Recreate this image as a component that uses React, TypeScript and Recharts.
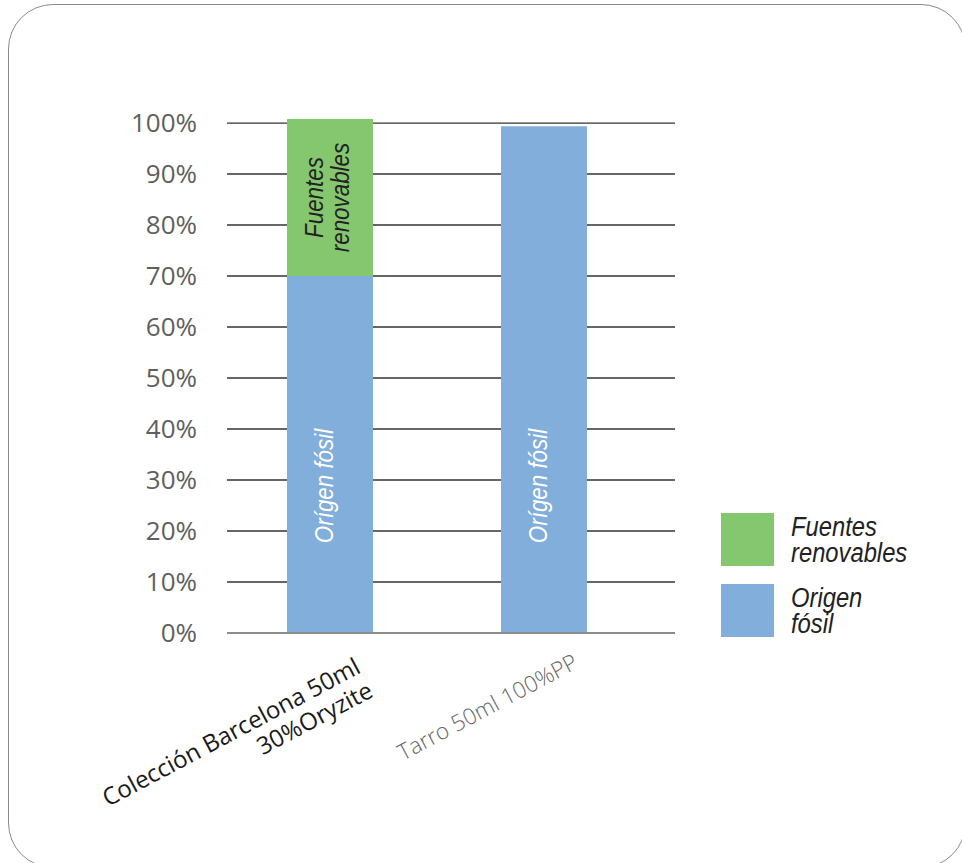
import { BarChart, Bar, XAxis, YAxis, CartesianGrid, Legend } from "recharts";

const categories = ["Colección Barcelona 50ml\n30%Oryzite", "Tarro 50ml 100%PP"];
const fossilValues = [70, 99.4];
const renewableValues = [30.8, 0];
const yTicks = [0, 10, 20, 30, 40, 50, 60, 70, 80, 90, 100];
const yDomain: [number, number] = [0, 100.8];
const seriesNames = { fossil: "Origen fósil", renewable: "Fuentes renovables" };
const barTexts = { fossil: "Orígen fósil", renewable: "Fuentes\nrenovables" };
const legendOrder = ["renewable", "fossil"];

const data = categories.map((name, i) => ({
  name,
  fossil: fossilValues[i],
  renewable: renewableValues[i],
}));

const BLUE = "#82AEDB";
const GREEN = "#85C76E";
const italicFont = "'Liberation Sans', Arial, sans-serif";

function XTick(props: any) {
  const { x, y, payload, index } = props;
  const lines = String(payload.value).split("\n");
  const first = index === 0;
  const ax = x + (first ? 24 : 28);
  const ay = y + (first ? 16 : 12);
  return (
    <text
      transform={`rotate(-28 ${ax} ${ay})`}
      x={ax}
      y={ay}
      textAnchor="end"
      fontFamily="'Open Sans', 'Noto Sans', sans-serif"
      fontSize={first ? 24 : 22.5}
      fontWeight={first ? 400 : 300}
      fill={first ? "#1a1a1a" : "#666666"}
    >
      {lines.map((l, i) => (
        <tspan key={i} x={ax} dy={i === 0 ? "0.71em" : 27}>
          {l}
        </tspan>
      ))}
    </text>
  );
}

// rotated, horizontally condensed italic text
function BarText({ cx, cy, lines, fill }: { cx: number; cy: number; lines: string[]; fill: string }) {
  return (
    <g transform={`translate(${cx} ${cy}) rotate(-90) scale(0.86 1)`}>
      <text textAnchor="middle" fontFamily={italicFont} fontStyle="italic" fontSize={26} fill={fill}>
        {lines.map((l, i) => (
          <tspan key={i} x={0} y={(i - (lines.length - 1) / 2) * 26 + (lines.length > 1 ? 6 : 3)}>
            {l}
          </tspan>
        ))}
      </text>
    </g>
  );
}

function RenewableLabel(props: any) {
  const x = Number(props.x), y = Number(props.y);
  const w = Number(props.width), h = Number(props.height);
  if (!h || h <= 0) return null;
  return <BarText cx={x + w / 2} cy={y + h / 2} lines={barTexts.renewable.split("\n")} fill="#222" />;
}

function FossilLabel(props: any) {
  const x = Number(props.x), y = Number(props.y);
  const w = Number(props.width), h = Number(props.height);
  if (!h || h <= 0) return null;
  return <BarText cx={x + w / 2} cy={y + h - 147} lines={[barTexts.fossil]} fill="#ffffff" />;
}

function LegendBox(props: any) {
  const items = [...(props.payload || [])].sort(
    (a: any, b: any) => legendOrder.indexOf(a.dataKey) - legendOrder.indexOf(b.dataKey)
  );
  return (
    <div>
      {items.map((it: any, i: number) => (
        <div key={i} style={{ display: "flex", alignItems: "center", marginBottom: 18 }}>
          <div style={{ width: 53, height: 53, background: it.color, flexShrink: 0 }} />
          <div
            style={{
              marginLeft: 17,
              fontFamily: italicFont,
              fontStyle: "italic",
              fontSize: 27,
              lineHeight: "26px",
              color: "#222",
              transform: "scaleX(0.88)",
              transformOrigin: "left center",
              whiteSpace: "nowrap",
            }}
          >
            {String(it.value)
              .split(" ")
              .map((w, j) => (
                <div key={j}>{w}</div>
              ))}
          </div>
        </div>
      ))}
    </div>
  );
}

// grid lines only at the labelled ticks
function gridRows(p: any) {
  const scale = p?.yAxis?.scale;
  if (typeof scale === "function") return yTicks.map((t) => scale(t));
  const top = p.offset.top;
  const h = p.offset.height;
  return yTicks.map((t) => top + h * (1 - (t - yDomain[0]) / (yDomain[1] - yDomain[0])));
}

export default function App() {
  return (
    <div style={{ position: "absolute", left: 0, top: 0, width: 962, height: 863, overflow: "hidden", background: "#fff" }}>
      <div
        style={{
          position: "absolute",
          left: 8,
          top: 4,
          width: 958,
          height: 864,
          border: "1.5px solid #8a8a8a",
          borderRadius: 45,
          boxSizing: "border-box",
        }}
      />
      <div style={{ position: "absolute", left: 0, top: 0 }}>
        <BarChart
          width={962}
          height={863}
          data={data}
          margin={{ top: 119, right: 287, left: 127, bottom: 130 }}
          barSize={86}
        >
          <CartesianGrid vertical={false} stroke="#333333" strokeWidth={1.4} horizontalCoordinatesGenerator={gridRows} />
          <XAxis
            dataKey="name"
            axisLine={{ stroke: "#8c8c8c", strokeWidth: 2 }}
            tickLine={false}
            tick={<XTick />}
            interval={0}
            height={100}
            padding={{ left: -4, right: 24 }}
          />
          <YAxis
            domain={yDomain}
            ticks={yTicks}
            tickFormatter={(v) => `${v}%`}
            axisLine={false}
            tickLine={false}
            tickMargin={24}
            width={100}
            tick={{ fill: "#5f5f5f", fontSize: 26, fontFamily: "'Open Sans', 'Noto Sans', sans-serif" }}
          />
          <Legend
            layout="vertical"
            align="center"
            verticalAlign="middle"
            content={<LegendBox />}
            wrapperStyle={{ left: 721, top: 513, width: 230 }}
          />
          <Bar dataKey="fossil" name={seriesNames.fossil} stackId="a" fill={BLUE} isAnimationActive={false} label={<FossilLabel />} />
          <Bar dataKey="renewable" name={seriesNames.renewable} stackId="a" fill={GREEN} isAnimationActive={false} label={<RenewableLabel />} />
        </BarChart>
      </div>
    </div>
  );
}
